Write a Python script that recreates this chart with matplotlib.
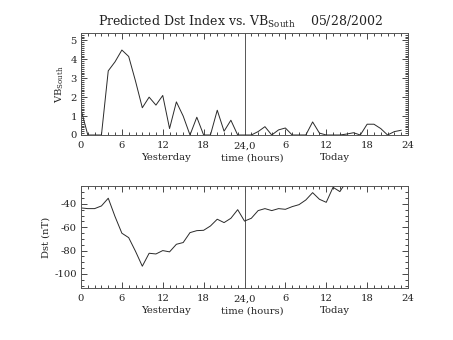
import matplotlib
matplotlib.use("Agg")
import matplotlib.pyplot as plt
from matplotlib.ticker import MultipleLocator, FixedLocator
import numpy as np

plt.rcParams['font.family'] = ['DejaVu Serif']
plt.rcParams['mathtext.fontset'] = 'dejavuserif'
plt.rcParams['axes.unicode_minus'] = False

# Hourly data: 0..23 yesterday, 24..47 today
vb_south = [1.35, 0, 0, 0, 3.39, 3.87, 4.49, 4.15, 2.85, 1.44, 2.0, 1.58,
            2.09, 0.34, 1.75, 1.0, 0, 0.94, 0, 0, 1.31, 0.2, 0.78, 0,
            0, 0, 0.18, 0.44, 0, 0.27, 0.37, 0, 0, 0, 0.69, 0.1,
            0, 0, 0, 0.05, 0.12, 0, 0.57, 0.57, 0.34, 0, 0.18, 0.25]
dst = [-43.4, -44.0, -44.0, -41.7, -35.1, -50.9, -65.1, -68.9, -80.6, -93.4,
       -82.3, -82.9, -80.0, -81.1, -74.6, -73.1, -64.6, -62.9, -62.6, -58.9,
       -53.1, -56.0, -52.3, -44.9, -54.7, -52.3, -45.7, -44.0, -45.7, -44.0,
       -44.6, -42.3, -40.6, -36.6, -30.3, -36.0, -38.6, -25.7, -29.4, -20.5]
hours_vb = np.arange(len(vb_south))
hours_dst = np.arange(len(dst))

xtick_pos = [0, 6, 12, 18, 24, 30, 36, 42, 48]
xtick_labels = ['0', '6', '12', '18', '24,0', '6', '12', '18', '24']
vb_ticks = [0, 1, 2, 3, 4, 5]
dst_ticks = [-100, -80, -60, -40]

W, H = 453, 340
fig = plt.figure(figsize=(W / 100, H / 100), dpi=100)

def frac(l, t, r, b):
    return [l / W, 1 - b / H, (r - l) / W, (b - t) / H]

ax1 = fig.add_axes(frac(81, 33, 408, 135))
ax2 = fig.add_axes(frac(81, 186, 408, 288))

lc = '#2a2a2a'
tc = '#222222'
fs = 7.2

for ax in (ax1, ax2):
    ax.set_xlim(0, 48)
    ax.xaxis.set_major_locator(FixedLocator(xtick_pos))
    ax.set_xticklabels(xtick_labels)
    ax.xaxis.set_minor_locator(MultipleLocator(1))
    ax.tick_params(which='both', direction='in', top=True, right=True,
                   color=lc, labelcolor=tc, labelsize=fs, width=0.6)
    ax.tick_params(which='major', length=4)
    ax.tick_params(which='minor', length=2)
    ax.tick_params(axis='x', which='major', pad=4.5)
    ax.tick_params(axis='y', which='major', pad=3)
    for s in ax.spines.values():
        s.set_color('#555555')
        s.set_linewidth(0.7)
    ax.axvline(24, color='#555555', lw=0.7)
    ax.text(0.26, -0.225, 'Yesterday', transform=ax.transAxes, ha='center',
            va='center', fontsize=fs, color=tc)
    ax.text(0.525, -0.225, 'time (hours)', transform=ax.transAxes, ha='center',
            va='center', fontsize=fs, color=tc)
    ax.text(0.775, -0.225, 'Today', transform=ax.transAxes, ha='center',
            va='center', fontsize=fs, color=tc)

ax1.plot(hours_vb, vb_south, color=lc, lw=0.7)
ax1.set_ylim(0, 5.39)
ax1.yaxis.set_major_locator(FixedLocator(vb_ticks))
ax1.yaxis.set_minor_locator(MultipleLocator(0.1))
ax1.set_ylabel(r'VB$_{\mathrm{South}}$', fontsize=fs, color=tc, labelpad=3)

ax2.plot(hours_dst, dst, color=lc, lw=0.7)
ax2.set_ylim(-112.1, -24.6)
ax2.yaxis.set_major_locator(FixedLocator(dst_ticks))
ax2.yaxis.set_minor_locator(MultipleLocator(5))
ax2.set_ylabel('Dst (nT)', fontsize=fs, color=tc, labelpad=3)

fig.text(240 / W, 1 - 22 / H, r'Predicted Dst Index vs. VB$_{\mathrm{South}}$    05/28/2002',
         ha='center', va='center', fontsize=9, color=tc)

fig.savefig('out.png', dpi=100)
